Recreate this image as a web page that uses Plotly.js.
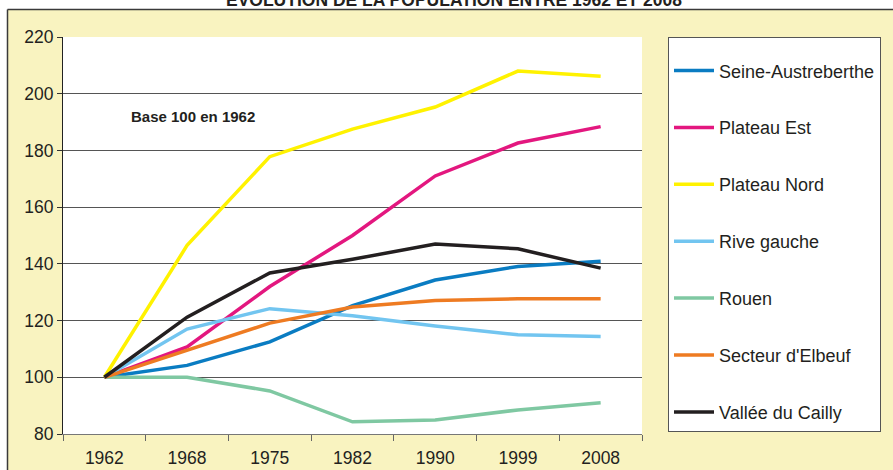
<!DOCTYPE html>
<html>
<head>
<meta charset="utf-8">
<script src="https://cdn.plot.ly/plotly-3.0.1.min.js"></script>
<style>html,body{margin:0;padding:0;background:#fff;}#chart{width:893px;height:470px;}</style>
</head>
<body>
<div id="chart"></div>
<script>
// Data (base 100 in 1962)
const years = ["1962", "1968", "1975", "1982", "1990", "1999", "2008"];
const seineAustreberthe = [100, 104.2, 112.5, 125.3, 134.3, 139.1, 140.9];
const plateauEst = [100, 110.7, 132.0, 150.0, 171.0, 182.6, 188.4];
const plateauNord = [100, 146.5, 177.8, 187.5, 195.3, 208.0, 206.2];
const riveGauche = [100, 117.0, 124.2, 121.7, 118.1, 115.0, 114.4];
const rouen = [100, 100, 95.2, 84.3, 84.9, 88.5, 91.0];
const secteurElbeuf = [100, 109.7, 119.1, 124.8, 127.1, 127.7, 127.7];
const valleeCailly = [100, 121.2, 136.8, 141.6, 147.0, 145.3, 138.5];

const seriesNames = ["Seine-Austreberthe", "Plateau Est", "Plateau Nord", "Rive gauche", "Rouen", "Secteur d'Elbeuf", "Vallée du Cailly"];
const seriesValues = [seineAustreberthe, plateauEst, plateauNord, riveGauche, rouen, secteurElbeuf, valleeCailly];
const seriesColors = ["#0a7cc2", "#e3177f", "#fff200", "#72c5f0", "#7fc8a2", "#ee7b22", "#231f20"];

const FONT = "Liberation Sans, Arial, Helvetica, sans-serif";

const traces = seriesNames.map((name, i) => ({
  type: "scatter",
  mode: "lines",
  name: name,
  x: years,
  y: seriesValues[i],
  legendgroup: "g" + i,
  line: {color: seriesColors[i], width: 3.5},
  hoverinfo: "x+y+name"
}));

const cream = "#f9f3c0";

const layout = {
  width: 893,
  height: 470,
  paper_bgcolor: cream,
  plot_bgcolor: "#ffffff",
  margin: {l: 63, r: 251, t: 37, b: 36, pad: 0},
  font: {family: FONT, color: "#231f20", size: 17},
  title: {
    text: "<b>EVOLUTION DE LA POPULATION ENTRE 1962 ET 2008</b>",
    font: {family: "Liberation Sans Narrow, Arial Narrow, Liberation Sans, Arial, sans-serif", size: 17.5, color: "#231f20"},
    x: 454 / 893, xanchor: "center", xref: "container",
    y: 1, yanchor: "middle", yref: "container"
  },
  xaxis: {
    type: "category",
    range: [-0.5, 6.5],
    tickson: "boundaries",
    ticks: "outside",
    ticklen: 6,
    tickcolor: "#666",
    ticklabelstandoff: 8,
    showline: true,
    linecolor: "#777",
    linewidth: 1,
    showgrid: false,
    zeroline: false,
    tickfont: {size: 17.5, family: FONT, color: "#231f20"},
    fixedrange: true
  },
  yaxis: {
    range: [80, 220],
    dtick: 20,
    ticks: "outside",
    ticklen: 5,
    tickcolor: "#333",
    showline: true,
    linecolor: "#222",
    linewidth: 1,
    showgrid: true,
    gridcolor: "#555",
    gridwidth: 1,
    zeroline: false,
    tickfont: {size: 17.5, family: FONT, color: "#231f20"},
    fixedrange: true
  },
  showlegend: true,
  legend: {
    x: (668 - 63) / 579, xanchor: "left",
    y: 1, yanchor: "top",
    bgcolor: "#ffffff",
    bordercolor: "#555",
    borderwidth: 1,
    font: {family: FONT, size: 18, color: "#231f20"},
    itemwidth: 40,
    tracegroupgap: 30.5,
    traceorder: "grouped",
    title: {text: " ", font: {size: 11}}
  },
  annotations: [{
    text: "<b>Base 100 en 1962</b>",
    xref: "paper", yref: "paper",
    x: (129 - 63) / 579, xanchor: "left",
    y: (434 - 116.5) / 397, yanchor: "middle",
    showarrow: false,
    font: {family: FONT, size: 15, color: "#231f20"}
  }],
  shapes: [
    {type: "rect", xref: "paper", yref: "paper", x0: -0.2, x1: 1.6, y0: (434 - 9.5) / 397, y1: 1.2,
     fillcolor: "#ffffff", line: {width: 0}, layer: "below"},
    {type: "rect", xref: "paper", yref: "paper", x0: -0.2, x1: (7.5 - 63) / 579, y0: -0.2, y1: 1.2,
     fillcolor: "#ffffff", line: {width: 0}, layer: "below"},
    {type: "line", xref: "paper", yref: "paper", x0: (7.5 - 63) / 579, x1: 1.6, y0: (434 - 9.5) / 397, y1: (434 - 9.5) / 397,
     line: {color: "#3a3a3a", width: 1.5}},
    {type: "line", xref: "paper", yref: "paper", x0: (7.5 - 63) / 579, x1: (7.5 - 63) / 579, y0: -0.2, y1: (434 - 9.5) / 397,
     line: {color: "#3a3a3a", width: 1.5}}
  ]
};

Plotly.newPlot("chart", traces, layout, {displayModeBar: false, staticPlot: true});
</script>
</body>
</html>
